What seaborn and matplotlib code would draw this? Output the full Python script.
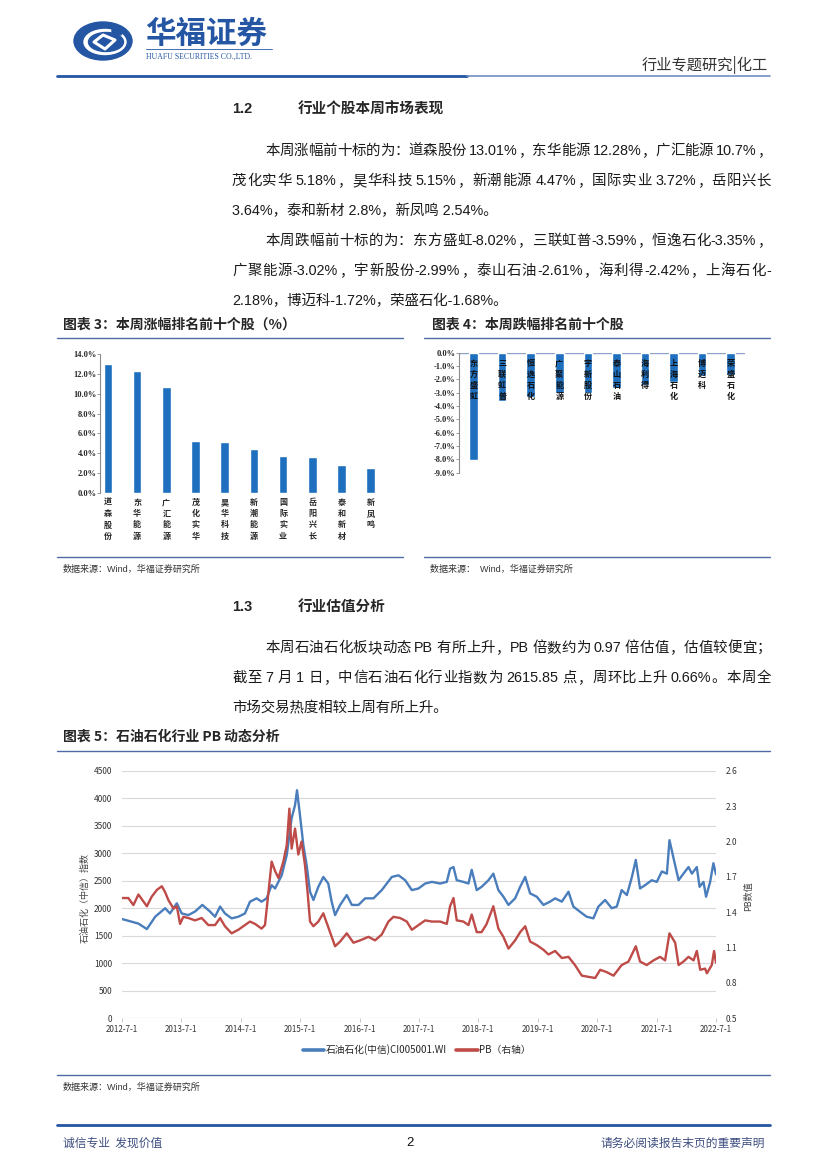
#!/usr/bin/env python3
# -*- coding: utf-8 -*-
"""
华福证券 行业专题研究 第 2 页：涨跌幅前十个股柱状图 + 石油石化 PB 动态分析折线图。
"""

import re
import numpy as np
import pandas as pd
import matplotlib
import matplotlib.pyplot as plt
import seaborn as sns
from matplotlib.lines import Line2D
from matplotlib.patches import Ellipse, Polygon

# -------------------- 数据 --------------------
up_names = ["道森股份", "东华能源", "广汇能源", "茂化实华", "昊华科技",
            "新潮能源", "国际实业", "岳阳兴长", "泰和新材", "新凤鸣"]
up_vals = [13.01, 12.28, 10.7, 5.18, 5.15, 4.47, 3.72, 3.64, 2.8, 2.54]

down_names = ["东方盛虹", "三联虹普", "恒逸石化", "广聚能源", "宇新股份",
              "泰山石油", "海利得", "上海石化", "博迈科", "荣盛石化"]
down_vals = [-8.02, -3.59, -3.35, -3.02, -2.99, -2.61, -2.42, -2.18, -1.72, -1.68]

# 石油石化(中信)指数（左轴），从图上读取的近似值
index_dates = [
    "2012-07-01", "2012-08-30", "2012-10-10", "2012-12-01", "2013-01-21", "2013-03-23",
    "2013-04-22", "2013-06-03", "2013-07-03", "2013-08-13", "2013-09-23", "2013-11-07",
    "2013-12-24", "2014-01-24", "2014-02-24", "2014-03-26", "2014-05-06", "2014-06-16",
    "2014-07-27", "2014-08-27", "2014-10-07", "2014-11-06", "2014-12-07", "2015-01-07",
    "2015-01-28", "2015-03-10", "2015-04-10", "2015-05-10", "2015-05-31", "2015-06-12",
    "2015-06-30", "2015-07-21", "2015-08-10", "2015-08-31", "2015-09-21", "2015-10-21",
    "2015-11-21", "2015-12-21", "2016-01-11", "2016-02-01", "2016-03-03", "2016-04-13",
    "2016-05-14", "2016-06-24", "2016-08-04", "2016-09-24", "2016-11-14", "2017-01-15",
    "2017-02-25", "2017-04-07", "2017-05-18", "2017-06-28", "2017-08-08", "2017-09-18",
    "2017-11-08", "2017-12-19", "2018-01-08", "2018-01-29", "2018-02-18", "2018-03-31",
    "2018-05-01", "2018-05-21", "2018-06-21", "2018-07-21", "2018-09-01", "2018-10-01",
    "2018-11-01", "2018-12-02", "2019-01-02", "2019-02-12", "2019-03-15", "2019-04-15",
    "2019-05-15", "2019-06-25", "2019-08-05", "2019-09-15", "2019-10-16", "2019-11-26",
    "2020-01-06", "2020-02-05", "2020-03-17", "2020-04-27", "2020-06-07", "2020-07-08",
    "2020-08-18", "2020-09-28", "2020-10-29", "2020-11-28", "2020-12-30", "2021-01-30",
    "2021-02-23", "2021-03-21", "2021-04-21", "2021-06-01", "2021-07-02", "2021-08-02",
    "2021-09-02", "2021-09-18", "2021-10-13", "2021-11-13", "2021-12-13", "2022-01-13",
    "2022-02-03", "2022-03-05", "2022-03-22", "2022-04-15", "2022-05-01", "2022-05-26",
    "2022-06-15", "2022-07-01",
]
index_vals = [
    1803, 1754, 1720, 1620, 1845, 2000, 1905, 2090, 1905, 1875, 1940, 2060,
    1940, 1845, 2030, 1905, 1815, 1845, 1905, 2120, 2180, 2120, 2180, 2420,
    2360, 2600, 2970, 3640, 3880, 4150, 3700, 3150, 2790, 2300, 2150, 2390,
    2570, 2450, 2120, 1875, 2060, 2240, 2060, 2060, 2180, 2180, 2330, 2570,
    2600, 2510, 2330, 2360, 2450, 2480, 2450, 2480, 2720, 2750, 2510, 2480,
    2450, 2700, 2330, 2390, 2510, 2630, 2330, 2210, 2060, 2180, 2390, 2570,
    2270, 2210, 2060, 2120, 2180, 2120, 2300, 2030, 1935, 1845, 1815, 2030,
    2150, 2000, 2030, 2330, 2240, 2570, 2880, 2360, 2420, 2510, 2480, 2670,
    2630, 3240, 2910, 2510, 2630, 2750, 2630, 2750, 2390, 2480, 2210, 2480,
    2820, 2616,
]

# PB（右轴）
pb_dates = [
    "2012-07-01", "2012-08-09", "2012-09-09", "2012-10-10", "2012-12-01", "2012-12-30",
    "2013-02-01", "2013-03-03", "2013-03-23", "2013-04-13", "2013-05-14", "2013-06-03",
    "2013-06-23", "2013-07-13", "2013-08-13", "2013-09-23", "2013-11-03", "2013-12-14",
    "2014-01-24", "2014-02-24", "2014-03-26", "2014-05-06", "2014-06-16", "2014-07-27",
    "2014-08-27", "2014-09-27", "2014-11-06", "2014-11-27", "2014-12-17", "2015-01-07",
    "2015-01-28", "2015-02-18", "2015-03-20", "2015-04-10", "2015-04-26", "2015-05-10",
    "2015-05-31", "2015-06-20", "2015-07-10", "2015-07-31", "2015-08-16", "2015-08-31",
    "2015-09-21", "2015-10-21", "2015-11-21", "2015-12-01", "2016-01-01", "2016-02-01",
    "2016-03-03", "2016-04-13", "2016-05-24", "2016-07-04", "2016-08-24", "2016-10-04",
    "2016-11-14", "2016-12-25", "2017-01-25", "2017-03-07", "2017-04-17", "2017-05-18",
    "2017-06-28", "2017-08-08", "2017-09-18", "2017-11-08", "2017-12-19", "2018-01-08",
    "2018-01-29", "2018-02-18", "2018-03-31", "2018-05-01", "2018-05-21", "2018-06-21",
    "2018-07-21", "2018-08-21", "2018-10-01", "2018-11-01", "2018-12-02", "2019-01-02",
    "2019-02-12", "2019-03-15", "2019-04-15", "2019-05-15", "2019-06-25", "2019-08-05",
    "2019-09-05", "2019-10-16", "2019-11-26", "2020-01-06", "2020-02-15", "2020-03-28",
    "2020-05-08", "2020-06-18", "2020-07-19", "2020-08-28", "2020-10-09", "2020-11-28",
    "2021-01-09", "2021-02-23", "2021-03-21", "2021-05-01", "2021-06-12", "2021-07-22",
    "2021-08-22", "2021-09-18", "2021-10-23", "2021-11-13", "2021-12-13", "2022-01-13",
    "2022-02-13", "2022-03-05", "2022-03-26", "2022-04-25", "2022-05-06", "2022-06-05",
    "2022-06-19", "2022-07-01",
]
pb_vals = [
    1.52, 1.52, 1.46, 1.55, 1.45, 1.53, 1.59, 1.62, 1.57, 1.50, 1.43, 1.45,
    1.30, 1.36, 1.35, 1.33, 1.35, 1.29, 1.29, 1.35, 1.28, 1.22, 1.25, 1.29,
    1.32, 1.30, 1.26, 1.29, 1.55, 1.83, 1.75, 1.69, 1.83, 1.97, 2.28, 1.94,
    2.11, 1.89, 2.00, 1.80, 1.57, 1.32, 1.28, 1.32, 1.39, 1.35, 1.23, 1.11,
    1.15, 1.22, 1.14, 1.16, 1.19, 1.16, 1.21, 1.32, 1.36, 1.35, 1.32, 1.25,
    1.29, 1.33, 1.32, 1.32, 1.30, 1.45, 1.52, 1.33, 1.32, 1.29, 1.38, 1.23,
    1.23, 1.30, 1.45, 1.26, 1.19, 1.09, 1.16, 1.23, 1.28, 1.15, 1.12, 1.08,
    1.04, 1.07, 1.01, 1.02, 0.95, 0.86, 0.85, 0.84, 0.91, 0.89, 0.86, 0.95,
    0.98, 1.11, 0.98, 0.95, 0.99, 1.02, 0.99, 1.22, 1.14, 0.95, 0.98, 1.02,
    0.99, 1.07, 0.91, 0.92, 0.88, 0.95, 1.07, 0.97,
]

left_ticks = list(range(0, 4501, 500))
right_ticks = [0.5, 0.8, 1.1, 1.4, 1.7, 2.0, 2.3, 2.6]
year_ticks = list(range(2012, 2023))

para1 = ["本周涨幅前十标的为：道森股份 13.01%，东华能源 12.28%，广汇能源 10.7%，",
         "茂化实华 5.18%，昊华科技 5.15%，新潮能源 4.47%，国际实业 3.72%，岳阳兴长",
         "3.64%，泰和新材 2.8%，新凤鸣 2.54%。"]
para2 = ["本周跌幅前十标的为：东方盛虹-8.02%，三联虹普-3.59%，恒逸石化-3.35%，",
         "广聚能源-3.02%，宇新股份-2.99%，泰山石油-2.61%，海利得-2.42%，上海石化-",
         "2.18%，博迈科-1.72%，荣盛石化-1.68%。"]
para3 = ["本周石油石化板块动态 PB 有所上升，PB 倍数约为 0.97 倍估值，估值较便宜；",
         "截至 7 月 1 日，中信石油石化行业指数为 2615.85 点，周环比上升 0.66%。本周全",
         "市场交易热度相较上周有所上升。"]

# -------------------- 样式 --------------------
sns.set_theme(style="white")
CJK = ["Noto Sans CJK SC", "DejaVu Sans"]
BODY = ["Liberation Sans", "Noto Sans CJK SC", "DejaVu Sans"]
NUM = ["Liberation Serif", "Noto Sans CJK SC"]
plt.rcParams["font.family"] = CJK
plt.rcParams["axes.unicode_minus"] = False

NAVY = "#2456A4"
RULE = "#4F6BA6"
BAR = "#1F6FBF"
LBLUE = "#4A7DBB"
LRED = "#BE4B48"

W, H = 827, 1169
fig = plt.figure(figsize=(W / 100, H / 100), dpi=100)
fig.patch.set_facecolor("white")
renderer = fig.canvas.get_renderer()


def fx(x):
    return x / W


def fy(y):
    return 1 - y / H


def box(x0, y0, x1, y1):
    return [x0 / W, 1 - y1 / H, (x1 - x0) / W, (y1 - y0) / H]


def hline(x0, x1, y, color=RULE, lw=1.0):
    fig.add_artist(Line2D([fx(x0), fx(x1)], [fy(y), fy(y)],
                          transform=fig.transFigure, color=color, lw=lw))


def text_line(s, x0, y, x1=None, size=10.4, color="#1a1a1a"):
    """正文一行；给了 x1 就两端对齐。"""
    if x1 is None:
        fig.text(fx(x0), fy(y), s, fontsize=size, family=BODY, color=color,
                 va="center", ha="left")
        return
    tokens = re.findall(r"[0-9A-Za-z.%\-]+| |.", s)
    widths = []
    for tok in tokens:
        if tok == " ":
            widths.append(size * 100 / 72 * 0.2)
            continue
        t = fig.text(0, 0, tok, fontsize=size, family=BODY)
        widths.append(t.get_window_extent(renderer).width)
        t.remove()
    gap = (x1 - x0 - sum(widths)) / (len(tokens) - 1)
    x = x0
    for tok, w in zip(tokens, widths):
        if tok != " ":
            fig.text(fx(x), fy(y), tok, fontsize=size, family=BODY, color=color,
                     va="center", ha="left")
        x += w + gap


# -------------------- 页眉 --------------------
lax = fig.add_axes(box(72, 20, 134, 62))
lax.set_xlim(0, 62)
lax.set_ylim(42, 0)
lax.axis("off")
lax.add_patch(Ellipse((31, 21), 58, 38, color=NAVY))
lax.add_patch(Ellipse((33, 22), 42, 25, color="white"))
lax.add_patch(Ellipse((34, 22), 35, 19, color=NAVY))
lax.add_patch(Polygon([[40, 6], [51, 8], [49, 15], [40, 13]], color=NAVY))
lax.add_patch(Polygon([[22, 22], [31, 15], [43, 20], [33, 29]], closed=True,
                      fill=False, ec="white", lw=2.2, joinstyle="round"))

fig.text(fx(145), fy(34), "华福证券", fontsize=22, weight="bold", color=NAVY,
         va="center", ha="left")
hline(146, 272, 49, color=NAVY, lw=0.6)
fig.text(fx(146), fy(56.5), "HUAFU SECURITIES CO.,LTD.", fontsize=5.6,
         family=NUM, color=NAVY, va="center", ha="left")
fig.text(fx(768), fy(65), "行业专题研究|化工", fontsize=11, color="#333333",
         va="center", ha="right")
hline(57, 467, 75.5, color=NAVY, lw=2.0)
hline(467, 770, 75.5, color="#6F8FC6", lw=1.2)

# -------------------- 正文 --------------------
fig.text(fx(232), fy(109), "1.2", fontsize=10.5, weight="bold", family=BODY,
         va="center")
fig.text(fx(298), fy(109), "行业个股本周市场表现", fontsize=10.5, weight="bold",
         va="center")
text_line(para1[0], 265, 151, 771)
text_line(para1[1], 232, 181, 771)
text_line(para1[2], 232, 211)
text_line(para2[0], 265, 241, 771)
text_line(para2[1], 232, 271, 771)
text_line(para2[2], 232, 301)

fig.text(fx(232), fy(607), "1.3", fontsize=10.5, weight="bold", family=BODY,
         va="center")
fig.text(fx(298), fy(607), "行业估值分析", fontsize=10.5, weight="bold",
         va="center")
text_line(para3[0], 265, 648, 771)
text_line(para3[1], 232, 678, 771)
text_line(para3[2], 232, 708)

# -------------------- 图表 3 --------------------
fig.text(fx(63), fy(325), "图表 3：本周涨幅排名前十个股（%）", fontsize=10,
         weight="bold", va="center")
hline(57, 403, 338.5)
hline(57, 403, 557)
fig.text(fx(63), fy(569), "数据来源：Wind，华福证券研究所", fontsize=6.5,
         family=BODY, color="#333333", va="center")

ax3 = fig.add_axes(box(100, 354.3, 392, 492.7))
df_up = pd.DataFrame({"name": up_names, "pct": up_vals})
sns.barplot(data=df_up, x="name", y="pct", color=BAR, saturation=1,
            width=0.3, ax=ax3)
ax3.set_xlim(-0.27, 9.73)
ax3.set_ylim(0, 14)
ax3.set_yticks(np.arange(0, 14.1, 2))
ax3.set_yticklabels([f"{v:.1f}%" for v in np.arange(0, 14.1, 2)],
                    fontsize=6, family=NUM, weight="bold")
ax3.set_xticks(range(len(up_names)))
ax3.set_xticklabels(["\n".join(n) for n in up_names], fontsize=5.8,
                    weight="bold", linespacing=1.3, va="top")
ax3.set_xlabel("")
ax3.set_ylabel("")
for s in ["top", "right", "bottom"]:
    ax3.spines[s].set_visible(False)
ax3.spines["left"].set_color("#8C8C8C")
ax3.spines["left"].set_linewidth(0.8)
ax3.tick_params(axis="y", left=True, length=2, width=0.6, color="#8C8C8C", pad=0.5)
ax3.tick_params(axis="x", length=0, pad=4)
ax3.patch.set_alpha(0)

# -------------------- 图表 4 --------------------
fig.text(fx(432), fy(325), "图表 4：本周跌幅排名前十个股", fontsize=10,
         weight="bold", va="center")
hline(424, 770, 338.5)
hline(424, 770, 557)
fig.text(fx(430), fy(569), "数据来源：  Wind，华福证券研究所", fontsize=6.5,
         family=BODY, color="#333333", va="center")

ax4 = fig.add_axes(box(459.3, 352.7, 745, 472.7))
df_down = pd.DataFrame({"name": down_names, "pct": down_vals})
sns.barplot(data=df_down, x="name", y="pct", color=BAR, saturation=1,
            width=0.30, ax=ax4)
ax4.set_xlim(-0.5, 9.5)
ax4.set_ylim(-9, 0)
ax4.set_yticks(np.arange(-9, 0.1, 1))
ax4.set_yticklabels([f"{v:.1f}%" for v in np.arange(-9, 0.1, 1)],
                    fontsize=6, family=NUM, weight="bold")
ax4.set_xticks([])
ax4.set_xlabel("")
ax4.set_ylabel("")
ax4.axhline(0, color="#8EA3C9", lw=1.0, zorder=0)
for i, n in enumerate(down_names):
    ax4.text(i, -0.5, "\n".join(n), ha="center", va="top", fontsize=5.8,
             weight="bold", linespacing=1.25, color="#111111")
for s in ["top", "right", "bottom"]:
    ax4.spines[s].set_visible(False)
ax4.spines["left"].set_color("#8C8C8C")
ax4.spines["left"].set_linewidth(0.8)
ax4.tick_params(axis="y", left=True, length=2, width=0.6, color="#8C8C8C", pad=1)
ax4.patch.set_alpha(0)

# -------------------- 图表 5 --------------------
fig.text(fx(63), fy(737), "图表 5：石油石化行业 PB 动态分析", fontsize=10,
         weight="bold", va="center")
hline(57, 770, 750.5)
hline(57, 770, 1075)
fig.text(fx(63), fy(1087), "数据来源：Wind，华福证券研究所", fontsize=6.5,
         family=BODY, color="#333333", va="center")

df_idx = pd.DataFrame({"date": pd.to_datetime(index_dates), "v": index_vals})
df_pb = pd.DataFrame({"date": pd.to_datetime(pb_dates), "v": pb_vals})

ax5 = fig.add_axes(box(122, 771, 716, 1018))
ax6 = ax5.twinx()
sns.lineplot(data=df_idx, x="date", y="v", ax=ax5, color=LBLUE, lw=1.7)
sns.lineplot(data=df_pb, x="date", y="v", ax=ax6, color=LRED, lw=1.7)

ax5.set_ylim(0, 4500)
ax5.set_yticks(left_ticks)
ax6.set_ylim(0.5, 2.6)
ax6.set_yticks(right_ticks)
ax6.set_yticklabels([f"{v:.1f}" for v in right_ticks])
xt = [pd.Timestamp(f"{y}-07-01") for y in year_ticks]
ax5.set_xlim(xt[0], xt[-1])
ax5.set_xticks(xt)
ax5.set_xticklabels([f"{y}-7-1" for y in year_ticks])
ax5.grid(axis="y", color="#D9D9D9", lw=0.8)
ax5.set_axisbelow(True)
for a in (ax5, ax6):
    a.set_xlabel("")
    a.set_ylabel("")
    for s in a.spines.values():
        s.set_visible(False)
ax5.axhline(0, color="#D9D9D9", lw=0.8)
ax5.tick_params(axis="y", length=0, labelsize=6, pad=7, labelcolor="#333333")
ax6.tick_params(axis="y", length=0, labelsize=6, pad=7, labelcolor="#333333")
ax5.tick_params(axis="x", bottom=True, length=3, width=0.6, color="#BFBFBF",
                labelsize=5.8, pad=2, labelcolor="#333333")
fig.text(fx(85), fy(898), "石油石化（中信）指数", fontsize=6.5, rotation=90,
         color="#444444", va="center", ha="center")
fig.text(fx(749), fy(896), "PB数值", fontsize=6.5, rotation=90,
         color="#444444", va="center", ha="center")

handles = [Line2D([], [], color=LBLUE, lw=2.6), Line2D([], [], color=LRED, lw=2.6)]
fig.legend(handles, ["石油石化(中信)CI005001.WI", "PB（右轴）"],
           loc="center", bbox_to_anchor=(fx(417), fy(1050)), ncol=2,
           frameon=False, fontsize=7, handlelength=2.2, handletextpad=0.2,
           columnspacing=0.9)

# -------------------- 页脚 --------------------
hline(57, 770, 1125, color=NAVY, lw=2.0)
fig.text(fx(63), fy(1143), "诚信专业  发现价值", fontsize=8.5, color="#3E4E80",
         va="center")
fig.text(fx(410), fy(1143), "2", fontsize=9.5, family=BODY, color="#111111",
         va="center", ha="center")
fig.text(fx(765), fy(1143), "请务必阅读报告末页的重要声明", fontsize=8.5,
         color="#3E4E80", va="center", ha="right")

fig.savefig("out.png", dpi=100, facecolor="white")
